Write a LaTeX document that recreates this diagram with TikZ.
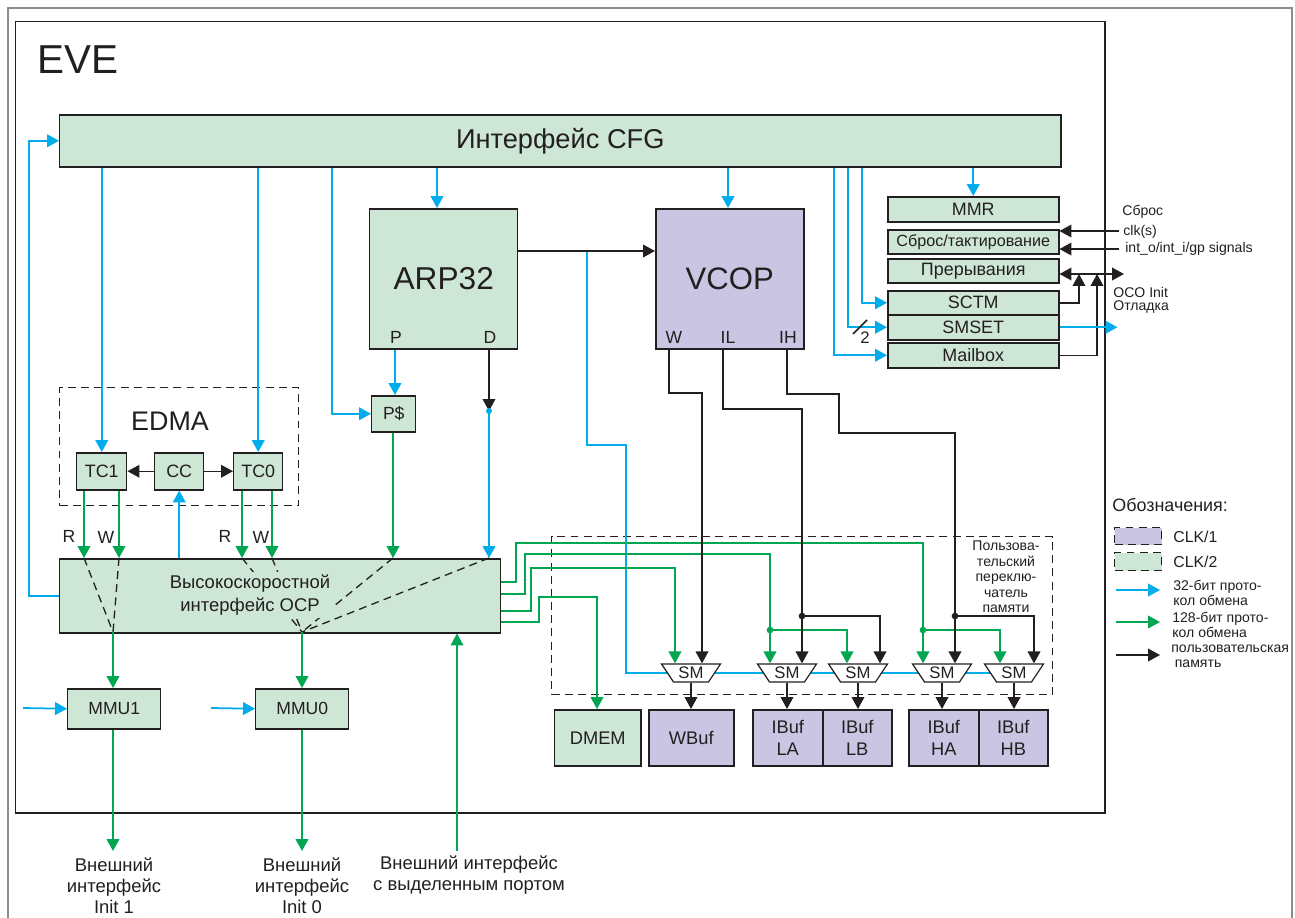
\documentclass[tikz,border=0pt]{standalone}
\usepackage{fontspec}
\setmainfont{Liberation Sans}
\usetikzlibrary{arrows.meta,shapes.geometric}
\definecolor{gfill}{RGB}{205,230,213}
\definecolor{pfill}{RGB}{201,197,226}
\definecolor{cbl}{RGB}{0,172,236}
\definecolor{cgr}{RGB}{0,166,81}
\definecolor{cdk}{RGB}{35,31,32}
\definecolor{cfr}{RGB}{140,140,140}
\newcommand\bx[7]{\node[#6,anchor=north west,minimum width={(#4-#2)*0.02cm},minimum height={(#5-#3)*0.02cm}] (#1) at (#2,#3) {#7};}
\newcommand\fs[2]{\fontsize{#1}{#2}\selectfont}
\begin{document}
\begin{tikzpicture}[x=0.02cm,y=-0.02cm,
  >={Triangle[length=6.8pt,width=7.2pt]},
  box/.style={draw=cdk,line width=0.85pt,inner sep=0pt,text=cdk},
  gbox/.style={box,fill=gfill},
  pbox/.style={box,fill=pfill},
  bl/.style={draw=cbl,line width=1pt},
  gl/.style={draw=cgr,line width=1pt},
  kl/.style={draw=cdk,line width=0.85pt},
  dsh/.style={draw=cdk,line width=0.75pt,dash pattern=on 4.5pt off 3pt},
  txt/.style={text=cdk,inner sep=0pt},
  sm/.style={trapezium,draw=cdk,line width=0.7pt,fill=white,shape border rotate=180,trapezium angle=54,trapezium stretches=true,minimum width=1.18cm,minimum height=0.36cm,inner sep=0pt,text=cdk,font=\fs{9.5}{11}},
]
\useasboundingbox (0,0) rectangle (1295,917);
% frames
\node[draw=cfr,line width=1pt,anchor=north west,minimum width={1284*0.02cm},minimum height={940*0.02cm},inner sep=0pt] (frame) at (7,7) {};
\bx{eve}{15}{21}{1104}{812}{box}{}
\node[txt,anchor=base west,font=\fs{23}{27}] (evet) at (37,73) {EVE};

% main blocks
\bx{cfg}{59}{114}{1060}{166}{gbox,font=\fs{15.5}{18}}{Интерфейс CFG}
\bx{arp}{369}{208}{517}{348}{gbox,font=\fs{18}{21}}{ARP32}
\node[txt,font=\fs{10}{12}] (arpP) at (396,337) {P};
\node[txt,font=\fs{10}{12}] (arpD) at (490,337) {D};
\bx{vcop}{655}{208}{803}{348}{pbox,font=\fs{17.7}{21}}{VCOP}
\node[txt,font=\fs{10}{12}] (vW) at (674,337) {W};
\node[txt,font=\fs{10}{12}] (vIL) at (728,337) {IL};
\node[txt,font=\fs{10}{12}] (vIH) at (788,337) {IH};
\bx{pc}{371}{395}{415}{431}{gbox,font=\fs{10}{12}}{P\$}

% right boxes
\bx{mmr}{887}{196}{1058}{221}{gbox,font=\fs{10.2}{12}}{MMR}
\bx{rst}{887}{229}{1058}{253}{gbox,font=\fs{9.2}{11}}{Сброс/тактирование}
\bx{irq}{887}{258}{1058}{282}{gbox,font=\fs{10.2}{12}}{Прерывания}
\bx{sctm}{887}{290}{1058}{314}{gbox,font=\fs{10.2}{12}}{SCTM}
\bx{smset}{887}{314}{1058}{339}{gbox,font=\fs{10.2}{12}}{SMSET}
\bx{mbox}{887}{342}{1058}{367}{gbox,font=\fs{10.2}{12}}{Mailbox}

% EDMA
\bx{edma}{59}{387}{298}{505}{dsh}{}
\node[txt,font=\fs{15.3}{18}] (edmat) at (170,421) {EDMA};
\bx{tc1}{76}{452}{126}{489}{gbox,font=\fs{10.2}{12}}{TC1}
\bx{cc}{154}{452}{203}{489}{gbox,font=\fs{10.2}{12}}{CC}
\bx{tc0}{233}{452}{282}{489}{gbox,font=\fs{10.2}{12}}{TC0}

% OCP and MMUs
\bx{ocp}{59}{558}{500}{632}{gbox}{}
\bx{mmu1}{67}{688}{160}{728}{gbox,font=\fs{10}{12}}{MMU1}
\bx{mmu0}{255}{688}{348}{728}{gbox,font=\fs{10}{12}}{MMU0}

% memories
\bx{dmem}{554}{709}{640}{765}{gbox,font=\fs{10.4}{12.3},align=center}{DMEM}
\bx{wbuf}{648}{709}{733}{765}{pbox,font=\fs{10.4}{12.3},align=center}{WBuf}
\bx{ila}{752}{709}{822}{765}{pbox,font=\fs{10.4}{12.3},align=center}{IBuf\\LA}
\bx{ilb}{822}{709}{891}{765}{pbox,font=\fs{10.4}{12.3},align=center}{IBuf\\LB}
\bx{iha}{908}{709}{978}{765}{pbox,font=\fs{10.4}{12.3},align=center}{IBuf\\HA}
\bx{ihb}{978}{709}{1047}{765}{pbox,font=\fs{10.4}{12.3},align=center}{IBuf\\HB}

% switch
\bx{sw}{551}{536}{1052}{694}{dsh}{}
\node[txt,align=center,font=\fs{8}{8.8}] (swt) at (1006,577) {Пользова-\\тельский\\переклю-\\чатель\\памяти};

% coordinates
\coordinate (bj) at (587,251);
\coordinate (dd) at (489,411);
\coordinate (m1) at (113,632);
\coordinate (m0) at (302,632);
\coordinate (gd1) at (770,630);
\coordinate (gd2) at (923,630);
\coordinate (kd1) at (802,616);
\coordinate (kd2) at (955,616);
\coordinate (e1) at (113,851);
\coordinate (e0) at (302,851);
\coordinate (dp) at (457,851);
\coordinate (mi1) at (23,708);
\coordinate (mi0) at (211,708);
\coordinate (irqo) at (1124,274);

% blue line to SM chain (under SMs)
\draw[bl] (bj) -- (587,445) -- (626,445) -- (626,673) -- (1014,673);

% SM nodes
\node[sm] (smw) at (691,673) {SM};
\node[sm] (smla) at (787,673) {SM};
\node[sm] (smlb) at (858,673) {SM};
\node[sm] (smha) at (942,673) {SM};
\node[sm] (smhb) at (1014,673) {SM};

% CFG fan-out
\draw[bl,->] (cfg.south -| tc1.north) -- (tc1.north);
\draw[bl,->] (cfg.south -| tc0.north) -- (tc0.north);
\draw[bl,->] (cfg.south -| 332,0) |- (pc.west);
\draw[bl,->] (cfg.south -| 437,0) -- (arp.north -| 437,0);
\draw[bl,->] (cfg.south -| 728,0) -- (vcop.north -| 728,0);
\draw[bl,->] (cfg.south -| mmr.north) -- (mmr.north);
\draw[bl,->] (cfg.south -| 862,0) |- (sctm.west);
\draw[bl,->] (cfg.south -| 848,0) |- (smset.west);
\draw[bl,->] (cfg.south -| 834,0) |- (mbox.west);
\draw[kl] (853,334) -- (867,320);
\node[txt,font=\fs{9.5}{11}] (two) at (865,338) {2};
\draw[bl,->] (ocp.west) -- ++(-30,0) |- (cfg.west);

% right side signals
\draw[kl,->] (1119,231) -- (rst.east |- 0,231);
\draw[kl,->] (1119,249) -- (rst.east |- 0,249);
\draw[kl,<->] (irq.east |- irqo) -- (irqo);
\draw[kl,->] (sctm.east) -| (1079,274);
\draw[kl,->] (mbox.east) -| (1097,274);
\draw[bl,->] (smset.east) -- ++(58,0);
\node[txt,anchor=west,font=\fs{8}{9}] (tsb) at (1122,212) {Сброс};
\node[txt,anchor=west,font=\fs{8}{9}] (tclk) at (1123,232) {clk(s)};
\node[txt,anchor=west,font=\fs{8}{9}] (tint) at (1125,249) {int\_o/int\_i/gp signals};
\node[txt,anchor=west,font=\fs{8}{9}] (toco) at (1113,292) {OCO Init};
\node[txt,anchor=west,font=\fs{8}{9}] (tdbg) at (1113,307) {Отладка};

% ARP32 / VCOP
\draw[kl,->] (arp.east |- bj) -- (vcop.west |- bj);
\draw[bl,->] (arp.south -| 395,0) -- (pc.north -| 395,0);
\draw[gl,->] (pc.south -| 393,0) -- (ocp.north -| 393,0);
\draw[kl,->] (arp.south -| dd) -- (dd);
\draw[bl,->] (dd) -- (ocp.north -| dd);
\fill[cbl] (dd) circle[radius=1.7pt];

% EDMA links
\draw[kl,->] (cc.west) -- (tc1.east);
\draw[kl,->] (cc.east) -- (tc0.west);
\draw[bl,->] (ocp.north -| cc.south) -- (cc.south);
\draw[gl,->] (tc1.south -| 84,0) -- (ocp.north -| 84,0);
\draw[gl,->] (tc1.south -| 119,0) -- (ocp.north -| 119,0);
\draw[gl,->] (tc0.south -| 242,0) -- (ocp.north -| 242,0);
\draw[gl,->] (tc0.south -| 272,0) -- (ocp.north -| 272,0);
\node[txt,font=\fs{10}{12}] (lr1) at (69,536) {R};
\node[txt,font=\fs{10}{12}] (lw1) at (106,537) {W};
\node[txt,font=\fs{10}{12}] (lr0) at (225,536) {R};
\node[txt,font=\fs{10}{12}] (lw0) at (261,537) {W};

% OCP crossbar
\draw[dsh] (ocp.north -| 84,0) -- (m1);
\draw[dsh] (ocp.north -| 119,0) -- (m1);
\draw[dsh] (ocp.north -| 242,0) -- (m0);
\draw[dsh] (ocp.north -| 272,0) -- (m0);
\draw[dsh] (ocp.north -| 393,0) -- (m0);
\draw[dsh] (ocp.north -| dd) -- (m0);
\node[txt,fill=gfill,inner sep=1.5pt,align=center,font=\fs{10.5}{13}] (ocpt) at (250,595) {Высокоскоростной\\интерфейс OCP};

% MMUs and external
\draw[gl,->] (m1) -- (mmu1.north -| m1);
\draw[gl,->] (m0) -- (mmu0.north -| m0);
\draw[bl,->] (mi1) -- (mmu1.west);
\draw[bl,->] (mi0) -- (mmu0.west);
\draw[gl,->] (mmu1.south -| e1) -- (e1);
\draw[gl,->] (mmu0.south -| e0) -- (e0);
\draw[gl,->] (dp) -- (ocp.south -| dp);
\node[txt,align=center,font=\fs{10.5}{12}] (te1) at (114,886) {Внешний\\интерфейс\\Init 1};
\node[txt,align=center,font=\fs{10.5}{12}] (te0) at (302,886) {Внешний\\интерфейс\\Init 0};
\node[txt,align=center,font=\fs{10.5}{12.4}] (tdp) at (469,875) {Внешний интерфейс\\с выделенным портом};

% OCP -> switch (green)
\draw[gl,->] (ocp.east |- 0,582) -- (516,582) -- (516,543) -- (923,543) -- (smha.north -| 923,0);
\draw[gl,->] (gd2) -| (smhb.north -| 1000,0);
\draw[gl,->] (ocp.east |- 0,594) -- (525,594) -- (525,554) -- (770,554) -- (smla.north -| 770,0);
\draw[gl,->] (gd1) -| (smlb.north -| 847,0);
\draw[gl,->] (ocp.east |- 0,611) -- (531,611) -- (531,568) -- (675,568) -- (smw.north -| 675,0);
\draw[gl,->] (ocp.east |- 0,622) -- (539,622) -- (539,597) -- (597,597) -- (dmem.north -| 597,0);

% VCOP -> switch (black)
\draw[kl,->] (vcop.south -| 669,0) -- (669,393) -- (702,393) -- (smw.north -| 702,0);
\draw[kl,->] (vcop.south -| 723,0) -- (723,409) -- (802,409) -- (smla.north -| 802,0);
\draw[kl,->] (kd1) -| (smlb.north -| 880,0);
\draw[kl,->] (vcop.south -| 787,0) -- (787,394) -- (839,394) -- (839,433) -- (955,433) -- (smha.north -| 955,0);
\draw[kl,->] (kd2) -| (smhb.north -| 1034,0);
\fill[cgr] (gd1) circle[radius=1.9pt];
\fill[cgr] (gd2) circle[radius=1.9pt];
\fill[cdk] (kd1) circle[radius=1.9pt];
\fill[cdk] (kd2) circle[radius=1.9pt];

% SM outputs
\draw[kl,->] (smw.south) -- (smw.south |- wbuf.north);
\draw[kl,->] (smla.south) -- (smla.south |- ila.north);
\draw[kl,->] (smlb.south) -- (smlb.south |- ilb.north);
\draw[kl,->] (smha.south) -- (smha.south |- iha.north);
\draw[kl,->] (smhb.south) -- (smhb.south |- ihb.north);

% legend
\node[txt,anchor=west,font=\fs{10.2}{12}] (lgt) at (1112,505) {Обозначения:};
\bx{lk1}{1114}{527}{1161}{544}{dsh,fill=pfill}{}
\bx{lk2}{1114}{552}{1161}{570}{dsh,fill=gfill}{}
\node[txt,anchor=west,font=\fs{9}{11}] (lc1) at (1173,537) {CLK/1};
\node[txt,anchor=west,font=\fs{9}{11}] (lc2) at (1173,562) {CLK/2};
\coordinate (la1) at (1116,590);
\coordinate (lb1) at (1160,590);
\coordinate (la2) at (1116,622);
\coordinate (lb2) at (1160,622);
\coordinate (la3) at (1116,655);
\coordinate (lb3) at (1160,655);
\draw[bl,->] (la1) -- (lb1);
\draw[gl,->] (la2) -- (lb2);
\draw[kl,->] (la3) -- (lb3);
\node[txt,anchor=west,align=left,font=\fs{8}{8.2}] (lt1) at (1173,593) {32-бит прото-\\кол обмена};
\node[txt,anchor=west,align=left,font=\fs{8}{8.6}] (lt2) at (1172,625) {128-бит прото-\\кол обмена};
\node[txt,anchor=west,align=left,font=\fs{8}{8.6}] (lt3) at (1171,656) {пользовательская\\\hspace*{2pt}память};
\end{tikzpicture}
\end{document}
